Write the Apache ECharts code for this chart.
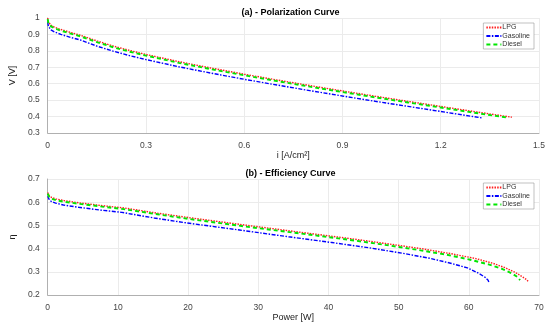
<!DOCTYPE html>
<html>
<head>
<meta charset="utf-8">
<script src="https://cdn.jsdelivr.net/npm/echarts@6/dist/echarts.min.js"></script>
<style>html,body{margin:0;padding:0;background:#fff}#c{width:550px;height:323px}</style>
</head>
<body>
<div id="c"></div>
<script>
// (a) Polarization curve: current density [A/cm2] and voltage [V]
const curLPG  = [0, 0.002, 0.005, 0.01, 0.02, 0.04, 0.07, 0.1, 0.15, 0.2, 0.25, 0.3, 0.4, 0.5, 0.6, 0.7, 0.8, 0.9, 1.0, 1.1, 1.2, 1.3, 1.417];
const voltLPG = [1.0, 0.976, 0.965, 0.956, 0.945, 0.93, 0.912, 0.895, 0.8605, 0.8295, 0.8025, 0.7782, 0.7344, 0.6948, 0.6578, 0.6227, 0.5888, 0.556, 0.5239, 0.4925, 0.4616, 0.4312, 0.396];
const curGas  = [0, 0.002, 0.005, 0.01, 0.02, 0.04, 0.07, 0.1, 0.15, 0.2, 0.25, 0.3, 0.4, 0.5, 0.6, 0.7, 0.8, 0.9, 1.0, 1.1, 1.2, 1.328];
const voltGas = [0.975, 0.95, 0.938, 0.928, 0.916, 0.9, 0.882, 0.866, 0.829, 0.798, 0.771, 0.747, 0.703, 0.664, 0.627, 0.592, 0.558, 0.525, 0.493, 0.462, 0.431, 0.391];
const curDsl  = [0, 0.002, 0.005, 0.01, 0.02, 0.04, 0.07, 0.1, 0.15, 0.2, 0.25, 0.3, 0.4, 0.5, 0.6, 0.7, 0.8, 0.9, 1.0, 1.1, 1.2, 1.3, 1.40];
const voltDsl = [0.993, 0.969, 0.958, 0.949, 0.938, 0.923, 0.905, 0.888, 0.853, 0.822, 0.795, 0.771, 0.727, 0.688, 0.651, 0.616, 0.582, 0.549, 0.517, 0.486, 0.455, 0.424, 0.395];

// (b) Efficiency curve: power [W] and efficiency
const powLPG = [0, 0.24, 0.59, 1.17, 2.31, 4.54, 7.79, 10.92, 15.75, 20.24, 28.48, 35.84, 42.38, 48.15, 53.18, 57.47, 61.0, 63.5, 65.3, 66.7, 67.7, 68.2, 68.5];
const effLPG = [0.642, 0.627, 0.620, 0.614, 0.607, 0.597, 0.585, 0.575, 0.552, 0.533, 0.500, 0.471, 0.446, 0.422, 0.400, 0.378, 0.357, 0.336, 0.316, 0.296, 0.277, 0.267, 0.257];
const powGas = [0, 0.23, 0.57, 1.13, 2.24, 4.39, 7.53, 10.57, 15.17, 19.47, 27.34, 34.31, 40.50, 45.90, 50.56, 54.46, 57.4, 59.8, 61.2, 62.3, 62.75, 62.9];
const effGas = [0.626, 0.610, 0.602, 0.596, 0.588, 0.578, 0.566, 0.556, 0.532, 0.512, 0.480, 0.451, 0.426, 0.403, 0.380, 0.358, 0.337, 0.317, 0.297, 0.277, 0.264, 0.252];
const powDsl = [0, 0.24, 0.58, 1.16, 2.29, 4.50, 7.73, 10.83, 15.61, 20.06, 28.22, 35.48, 41.97, 47.65, 52.60, 56.81, 60.2, 62.8, 64.8, 66.2, 67.0, 67.3];
const effDsl = [0.637, 0.622, 0.615, 0.609, 0.602, 0.593, 0.581, 0.570, 0.548, 0.528, 0.495, 0.467, 0.442, 0.418, 0.395, 0.374, 0.352, 0.332, 0.312, 0.292, 0.276, 0.264];

const seriesNames = ['LPG', 'Gasoline', 'Diesel'];
const xTicksA = [0, 0.3, 0.6, 0.9, 1.2, 1.5];
const yTicksA = [0.3, 0.4, 0.5, 0.6, 0.7, 0.8, 0.9, 1];
const xTicksB = [0, 10, 20, 30, 40, 50, 60, 70];
const yTicksB = [0.2, 0.3, 0.4, 0.5, 0.6, 0.7];

const pairs = (xs, ys) => xs.map((x, k) => [x, ys[k]]);

const styles = [
  {color: '#ff2020', width: 1.4, type: [1.5, 1.2]},
  {color: '#0000ff', width: 1.4, type: [4, 1.5, 1.5, 1.5]},
  {color: '#00e600', width: 1.9, type: [4, 3]}
];

const FONT = 'Liberation Sans, Arial, sans-serif';
const axisCommon = {
  axisLine: {show: true, lineStyle: {color: '#b0b0b0', width: 1}},
  axisTick: {show: false},
  splitLine: {show: true, lineStyle: {color: '#ebebeb', width: 1}},
  axisLabel: {color: '#444', fontSize: 8.5, fontFamily: FONT},
  nameTextStyle: {color: '#222', fontSize: 9, fontFamily: FONT}
};

function mkSeries(name, k, xIdx, data) {
  return {
    name: name, type: 'line', xAxisIndex: xIdx, yAxisIndex: xIdx,
    data: data, symbol: 'none', showSymbol: false, smooth: false,
    lineStyle: {color: styles[k].color, width: styles[k].width, type: styles[k].type},
    itemStyle: {color: styles[k].color},
    animation: false
  };
}

function mkLegend(top) {
  return {
    orient: 'vertical', right: 16, top: top, itemWidth: 15, itemHeight: 6, itemGap: 1.5,
    padding: [1, 4, 1, 2], borderColor: '#999', borderWidth: 0.6, backgroundColor: '#fff',
    itemStyle: {opacity: 0},
    textStyle: {fontSize: 7, lineHeight: 7, color: '#333', fontFamily: FONT, padding: [0, 0, 0, -4]},
    data: seriesNames
  };
}

const chart = echarts.init(document.getElementById('c'), null, {renderer: 'canvas'});
chart.setOption({
  animation: false,
  title: [
    {text: '(a) - Polarization Curve', left: 285.5, top: 3, textAlign: 'center',
     textStyle: {fontSize: 9, fontWeight: 'bold', color: '#000', fontFamily: FONT}},
    {text: '(b) - Efficiency Curve', left: 285.5, top: 164, textAlign: 'center',
     textStyle: {fontSize: 9, fontWeight: 'bold', color: '#000', fontFamily: FONT}}
  ],
  legend: [mkLegend(23), mkLegend(183)],
  grid: [
    {left: 32, top: 18, width: 507, height: 115},
    {left: 32, top: 179, width: 507, height: 116}
  ],
  xAxis: [
    Object.assign({}, axisCommon, {gridIndex: 0, type: 'value', min: xTicksA[0], max: xTicksA[xTicksA.length - 1],
      interval: 0.3, name: 'i [A/cm²]', nameLocation: 'middle', nameGap: 14}),
    Object.assign({}, axisCommon, {gridIndex: 1, type: 'value', min: xTicksB[0], max: xTicksB[xTicksB.length - 1],
      interval: 10, name: 'Power [W]', nameLocation: 'middle', nameGap: 12})
  ],
  yAxis: [
    Object.assign({}, axisCommon, {gridIndex: 0, type: 'value', min: yTicksA[0], max: yTicksA[yTicksA.length - 1],
      interval: 0.1, name: 'V [V]', nameLocation: 'middle', nameGap: 16}),
    Object.assign({}, axisCommon, {gridIndex: 1, type: 'value', min: yTicksB[0], max: yTicksB[yTicksB.length - 1],
      interval: 0.1, name: 'η', nameLocation: 'middle', nameGap: 16})
  ],
  series: [
    mkSeries('LPG', 0, 0, pairs(curLPG, voltLPG)),
    mkSeries('Gasoline', 1, 0, pairs(curGas, voltGas)),
    mkSeries('Diesel', 2, 0, pairs(curDsl, voltDsl)),
    mkSeries('LPG', 0, 1, pairs(powLPG, effLPG)),
    mkSeries('Gasoline', 1, 1, pairs(powGas, effGas)),
    mkSeries('Diesel', 2, 1, pairs(powDsl, effDsl))
  ]
});
</script>
</body>
</html>
